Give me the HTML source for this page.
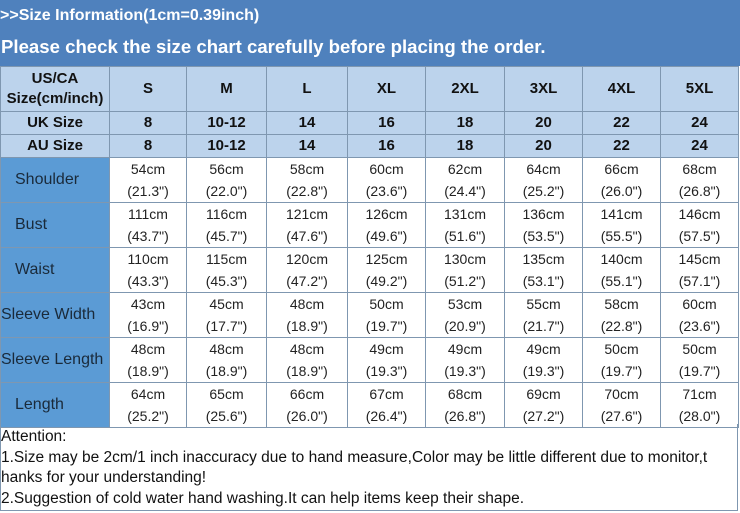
<!DOCTYPE html>
<html><head><meta charset="utf-8"><style>
*{margin:0;padding:0;box-sizing:border-box}
body{width:740px;height:513px;background:#fff;font-family:"Liberation Sans",Arial,sans-serif;position:relative;overflow:hidden}
#hd{position:absolute;left:0;top:0;width:740px;height:66px;background:#4f81bd;color:#fff;font-weight:bold}
#h1{position:absolute;left:0;top:7px;font-size:16px}
#h2{position:absolute;left:1px;top:36px;font-size:18.6px}
table{position:absolute;left:0;top:66px;border-collapse:collapse;table-layout:fixed;width:738px}
td{border:1px solid #7f97b0;text-align:center;font-size:14px;color:#222;line-height:22px;padding:0}
tr.h td{background:#bcd3ec;font-weight:bold;font-size:15px;color:#111}
td.l{background:#5b9bd5;font-size:16px;color:#1a2a3a;text-align:left;padding-left:14px}
#att{position:absolute;left:0;top:424px;width:738px;height:87px;border:1px solid #7f97b0;border-top:none;font-size:15.5px;line-height:20.5px;color:#111;padding-top:3px;white-space:nowrap}
</style></head><body>
<div id="hd"><div id="h1">&gt;&gt;Size Information(1cm=0.39inch)</div><div id="h2">Please check the size chart carefully before placing the order.</div></div>
<table>
<colgroup><col style="width:109px"><col style="width:77px"><col style="width:80px"><col style="width:81px"><col style="width:78px"><col style="width:79px"><col style="width:78px"><col style="width:78px"><col style="width:78px"></colgroup>
<tr class="h" style="height:45px"><td style="line-height:20px">US/CA<br>Size(cm/inch)</td><td>S</td><td>M</td><td>L</td><td>XL</td><td>2XL</td><td>3XL</td><td>4XL</td><td>5XL</td></tr>
<tr class="h" style="height:23px"><td>UK Size</td><td>8</td><td>10-12</td><td>14</td><td>16</td><td>18</td><td>20</td><td>22</td><td>24</td></tr>
<tr class="h" style="height:23px"><td>AU Size</td><td>8</td><td>10-12</td><td>14</td><td>16</td><td>18</td><td>20</td><td>22</td><td>24</td></tr>
<tr style="height:44px"><td class="l">Shoulder</td><td>54cm<br>(21.3")</td><td>56cm<br>(22.0")</td><td>58cm<br>(22.8")</td><td>60cm<br>(23.6")</td><td>62cm<br>(24.4")</td><td>64cm<br>(25.2")</td><td>66cm<br>(26.0")</td><td>68cm<br>(26.8")</td></tr>
<tr style="height:44px"><td class="l">Bust</td><td>111cm<br>(43.7")</td><td>116cm<br>(45.7")</td><td>121cm<br>(47.6")</td><td>126cm<br>(49.6")</td><td>131cm<br>(51.6")</td><td>136cm<br>(53.5")</td><td>141cm<br>(55.5")</td><td>146cm<br>(57.5")</td></tr>
<tr style="height:44px"><td class="l">Waist</td><td>110cm<br>(43.3")</td><td>115cm<br>(45.3")</td><td>120cm<br>(47.2")</td><td>125cm<br>(49.2")</td><td>130cm<br>(51.2")</td><td>135cm<br>(53.1")</td><td>140cm<br>(55.1")</td><td>145cm<br>(57.1")</td></tr>
<tr style="height:44px"><td class="l" style="padding-left:0">Sleeve Width</td><td>43cm<br>(16.9")</td><td>45cm<br>(17.7")</td><td>48cm<br>(18.9")</td><td>50cm<br>(19.7")</td><td>53cm<br>(20.9")</td><td>55cm<br>(21.7")</td><td>58cm<br>(22.8")</td><td>60cm<br>(23.6")</td></tr>
<tr style="height:44px"><td class="l" style="padding-left:0">Sleeve Length</td><td>48cm<br>(18.9")</td><td>48cm<br>(18.9")</td><td>48cm<br>(18.9")</td><td>49cm<br>(19.3")</td><td>49cm<br>(19.3")</td><td>49cm<br>(19.3")</td><td>50cm<br>(19.7")</td><td>50cm<br>(19.7")</td></tr>
<tr style="height:44px"><td class="l">Length</td><td>64cm<br>(25.2")</td><td>65cm<br>(25.6")</td><td>66cm<br>(26.0")</td><td>67cm<br>(26.4")</td><td>68cm<br>(26.8")</td><td>69cm<br>(27.2")</td><td>70cm<br>(27.6")</td><td>71cm<br>(28.0")</td></tr>
</table>
<div id="att">Attention:<br>1.Size may be 2cm/1 inch inaccuracy due to hand measure,Color may be little different due to monitor,t<br>hanks for your understanding!<br>2.Suggestion of cold water hand washing.It can help items keep their shape.</div>
</body></html>
